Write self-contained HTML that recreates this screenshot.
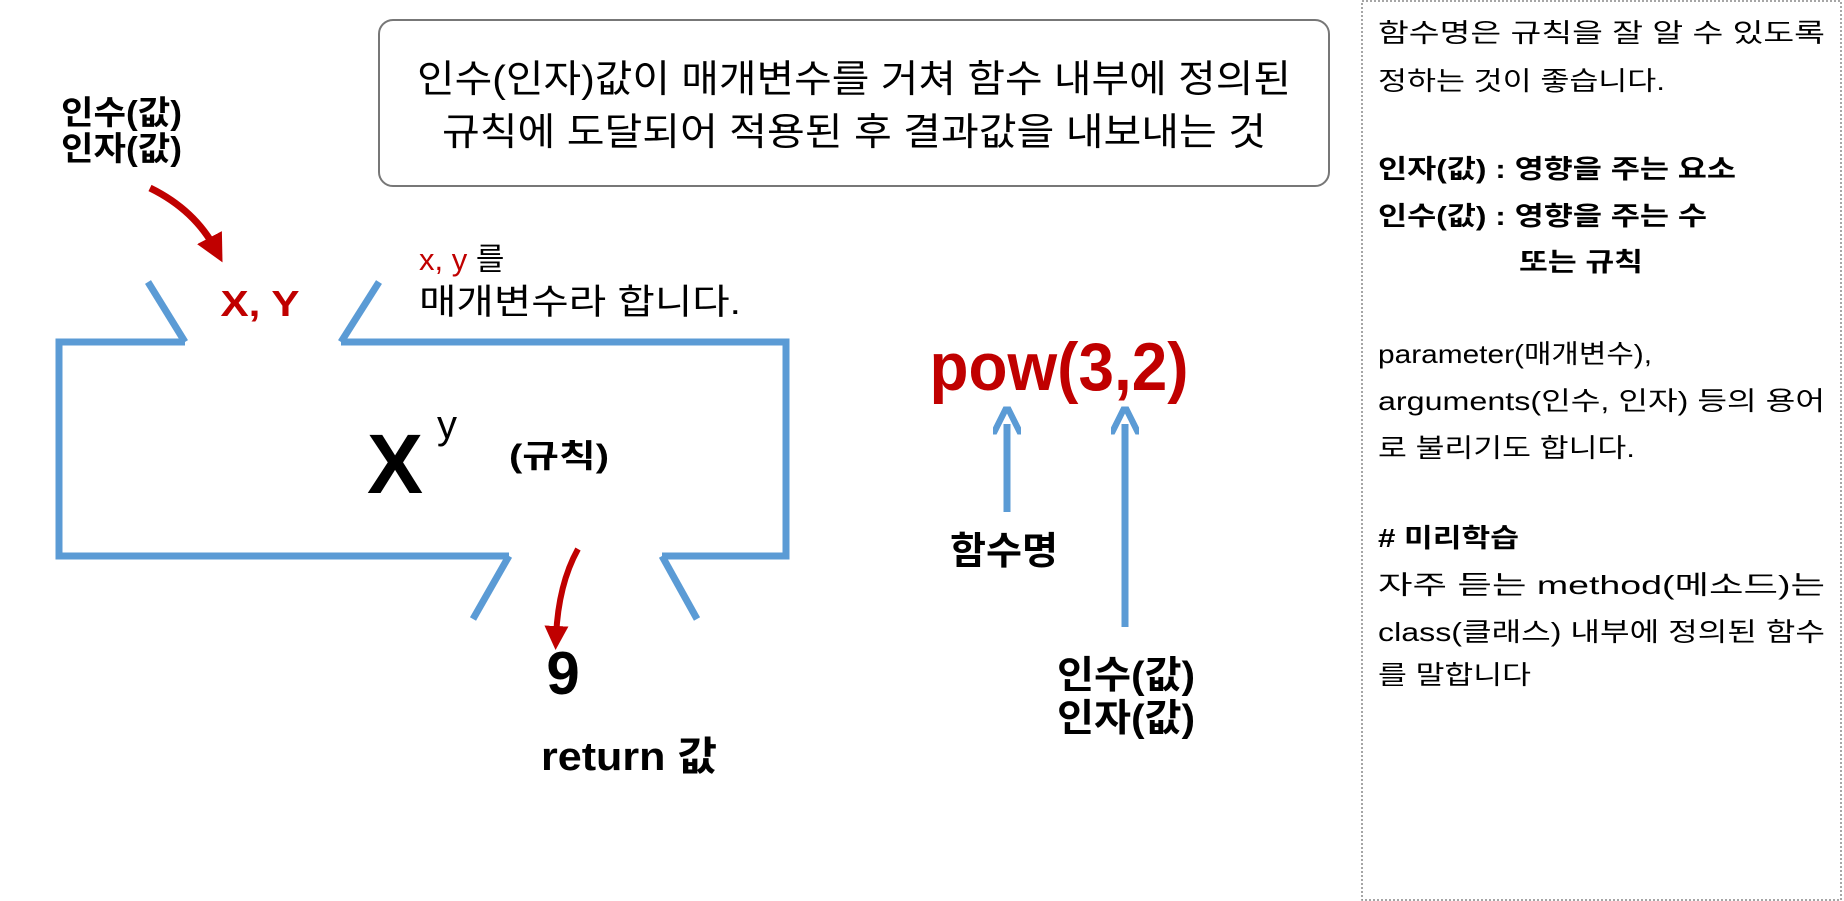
<!DOCTYPE html>
<html><head><meta charset="utf-8"><style>
html,body{margin:0;padding:0;background:#fff;width:1844px;height:901px;overflow:hidden}
svg{display:block}
text{font-family:"Liberation Sans","Noto Sans CJK KR",sans-serif}
.b{font-weight:bold}
</style></head><body>
<svg width="1844" height="901" viewBox="0 0 1844 901" xmlns="http://www.w3.org/2000/svg">
<defs>
<marker id="ra" markerWidth="4" markerHeight="4" refX="2" refY="2" orient="auto" markerUnits="strokeWidth"><path d="M0,0 L4,2 L0,4 z" fill="#c00000"/></marker>
<marker id="ba" markerWidth="4" markerHeight="4" refX="1.5" refY="2" orient="auto" markerUnits="strokeWidth"><path d="M0,0 L4,2 L0,4" fill="none" stroke="#5b9bd5" stroke-width="0.9"/></marker>
</defs>
<!-- top box -->
<rect x="379" y="20" width="950" height="166" rx="14" fill="#fff" stroke="#777" stroke-width="2"/>
<text x="854" y="92" font-size="38" text-anchor="middle" textLength="874" lengthAdjust="spacingAndGlyphs">인수(인자)값이 매개변수를 거쳐 함수 내부에 정의된</text>
<text x="854" y="145" font-size="38" text-anchor="middle" textLength="824" lengthAdjust="spacingAndGlyphs">규칙에 도달되어 적용된 후 결과값을 내보내는 것</text>
<!-- right panel -->
<rect x="1362" y="1" width="479" height="899" fill="none" stroke="#888" stroke-width="1.5" stroke-dasharray="2,2"/>
<g font-size="26">
<text x="1378" y="42" textLength="447" lengthAdjust="spacingAndGlyphs">함수명은 규칙을 잘 알 수 있도록</text>
<text x="1378" y="90" textLength="287" lengthAdjust="spacingAndGlyphs">정하는 것이 좋습니다.</text>
<text class="b" x="1378" y="178" textLength="358" lengthAdjust="spacingAndGlyphs">인자(값) : 영향을 주는 요소</text>
<text class="b" x="1378" y="225" textLength="329" lengthAdjust="spacingAndGlyphs">인수(값) : 영향을 주는 수</text>
<text class="b" x="1519" y="271" textLength="124" lengthAdjust="spacingAndGlyphs">또는 규칙</text>
<text x="1378" y="363" textLength="274" lengthAdjust="spacingAndGlyphs">parameter(매개변수),</text>
<text x="1378" y="410" textLength="447" lengthAdjust="spacingAndGlyphs">arguments(인수, 인자) 등의 용어</text>
<text x="1378" y="457" textLength="257" lengthAdjust="spacingAndGlyphs">로 불리기도 합니다.</text>
<text class="b" x="1378" y="547" textLength="141" lengthAdjust="spacingAndGlyphs"># 미리학습</text>
<text x="1378" y="594" textLength="447" lengthAdjust="spacingAndGlyphs">자주  듣는  method(메소드)는</text>
<text x="1378" y="641" textLength="447" lengthAdjust="spacingAndGlyphs">class(클래스) 내부에 정의된 함수</text>
<text x="1378" y="684" textLength="153" lengthAdjust="spacingAndGlyphs">를 말합니다</text>
</g>
<!-- blue machine -->
<g fill="none" stroke="#5b9bd5" stroke-width="7">
<polyline points="185,342 59,342 59,556 509,556"/>
<polyline points="341,342 786,342 786,556 662,556"/>
<line x1="148" y1="282" x2="185" y2="342"/>
<line x1="379" y1="282" x2="341" y2="342"/>
<line x1="509" y1="556" x2="473" y2="619"/>
<line x1="662" y1="556" x2="697" y2="619"/>
</g>
<!-- labels left -->
<text class="b" x="61" y="124" font-size="33" textLength="121" lengthAdjust="spacingAndGlyphs">인수(값)</text>
<text class="b" x="61" y="160" font-size="33" textLength="121" lengthAdjust="spacingAndGlyphs">인자(값)</text>
<path d="M150,188 Q195,210 216,250" fill="none" stroke="#c00000" stroke-width="7" marker-end="url(#ra)"/>
<text class="b" x="260" y="316" font-size="36" fill="#c00000" text-anchor="middle" textLength="79" lengthAdjust="spacingAndGlyphs">X, Y</text>
<text x="419" y="270" font-size="31"><tspan fill="#c00000">x, y</tspan> 를</text>
<text x="419" y="314" font-size="35" textLength="322" lengthAdjust="spacingAndGlyphs">매개변수라 합니다.</text>
<text class="b" x="395" y="493" font-size="84" text-anchor="middle">X</text>
<text x="447" y="438" font-size="40" text-anchor="middle">y</text>
<text class="b" x="509" y="467" font-size="32" textLength="100" lengthAdjust="spacingAndGlyphs">(규칙)</text>
<path d="M578,549 Q558,585 556,638" fill="none" stroke="#c00000" stroke-width="6" marker-end="url(#ra)"/>
<text class="b" x="563" y="694" font-size="60" text-anchor="middle">9</text>
<text class="b" x="629" y="770" font-size="40" text-anchor="middle" textLength="176" lengthAdjust="spacingAndGlyphs">return 값</text>
<!-- pow -->
<text class="b" x="1059" y="390" font-size="68" fill="#c00000" text-anchor="middle" textLength="259" lengthAdjust="spacingAndGlyphs">pow(3,2)</text>
<line x1="1007" y1="512" x2="1007" y2="424" stroke="#5b9bd5" stroke-width="7" marker-end="url(#ba)"/>
<line x1="1125" y1="627" x2="1125" y2="424" stroke="#5b9bd5" stroke-width="7" marker-end="url(#ba)"/>
<text class="b" x="1004" y="564" font-size="38" text-anchor="middle" textLength="108" lengthAdjust="spacingAndGlyphs">함수명</text>
<text class="b" x="1126" y="688" font-size="38" text-anchor="middle" textLength="138" lengthAdjust="spacingAndGlyphs">인수(값)</text>
<text class="b" x="1126" y="731" font-size="38" text-anchor="middle" textLength="138" lengthAdjust="spacingAndGlyphs">인자(값)</text>
</svg>
</body></html>
